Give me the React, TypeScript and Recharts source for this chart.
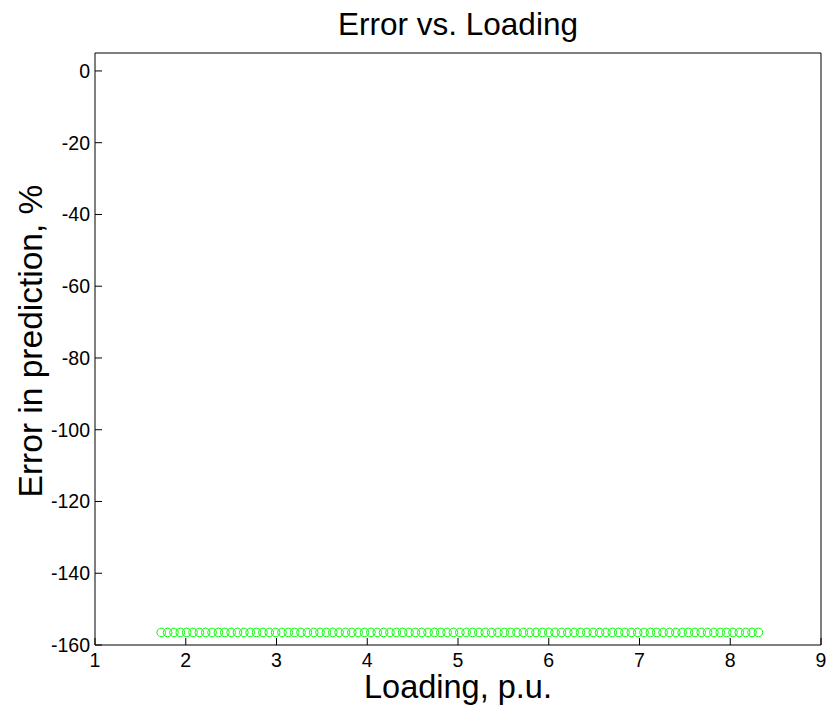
import React from 'react';
import { ScatterChart, Scatter, XAxis, YAxis } from 'recharts';

// Loading, p.u.
const loading = [
  1.73, 1.80, 1.87, 1.94, 2.01, 2.08, 2.15, 2.22, 2.29, 2.36,
  2.43, 2.50, 2.57, 2.64, 2.71, 2.78, 2.85, 2.92, 2.99, 3.06,
  3.13, 3.20, 3.27, 3.34, 3.41, 3.48, 3.55, 3.62, 3.69, 3.76,
  3.83, 3.90, 3.97, 4.04, 4.11, 4.18, 4.25, 4.32, 4.39, 4.46,
  4.53, 4.60, 4.67, 4.74, 4.81, 4.88, 4.95, 5.02, 5.09, 5.16,
  5.23, 5.30, 5.37, 5.44, 5.51, 5.58, 5.65, 5.72, 5.79, 5.86,
  5.93, 6.00, 6.07, 6.14, 6.21, 6.28, 6.35, 6.42, 6.49, 6.56,
  6.63, 6.70, 6.77, 6.84, 6.91, 6.98, 7.05, 7.12, 7.19, 7.26,
  7.33, 7.40, 7.47, 7.54, 7.61, 7.68, 7.75, 7.82, 7.89, 7.96,
  8.03, 8.10, 8.17, 8.24, 8.31,
];

// Error in prediction, %
const errorPct = [
  -156.5, -156.5, -156.5, -156.5, -156.5, -156.5, -156.5, -156.5, -156.5, -156.5,
  -156.5, -156.5, -156.5, -156.5, -156.5, -156.5, -156.5, -156.5, -156.5, -156.5,
  -156.5, -156.5, -156.5, -156.5, -156.5, -156.5, -156.5, -156.5, -156.5, -156.5,
  -156.5, -156.5, -156.5, -156.5, -156.5, -156.5, -156.5, -156.5, -156.5, -156.5,
  -156.5, -156.5, -156.5, -156.5, -156.5, -156.5, -156.5, -156.5, -156.5, -156.5,
  -156.5, -156.5, -156.5, -156.5, -156.5, -156.5, -156.5, -156.5, -156.5, -156.5,
  -156.5, -156.5, -156.5, -156.5, -156.5, -156.5, -156.5, -156.5, -156.5, -156.5,
  -156.5, -156.5, -156.5, -156.5, -156.5, -156.5, -156.5, -156.5, -156.5, -156.5,
  -156.5, -156.5, -156.5, -156.5, -156.5, -156.5, -156.5, -156.5, -156.5, -156.5,
  -156.5, -156.5, -156.5, -156.5, -156.5,
];

const xTicks = [1, 2, 3, 4, 5, 6, 7, 8, 9];
const yTicks = [-160, -140, -120, -100, -80, -60, -40, -20, 0];

const data = loading.map((x, i) => ({ loading: x, error: errorPct[i] }));

const FONT = '"Liberation Sans", Arial, Helvetica, sans-serif';
const TICK_LEN = 7;
const TICK_FONT = 19.5;

// MATLAB-style inward ticks; recharts passes the axis line coordinate as x/y
// because tickSize and tickMargin are both 0.
const BottomTick = (props: any) => {
  const { x, y, payload } = props;
  return (
    <g>
      <line x1={x} x2={x} y1={y} y2={y - TICK_LEN} stroke="#000" strokeWidth={1} />
      <text x={x} y={y + 22} textAnchor="middle" fontSize={TICK_FONT} fontFamily={FONT} fill="#000">
        {payload.value}
      </text>
    </g>
  );
};

const TopTick = (props: any) => {
  const { x, y } = props;
  return <line x1={x} x2={x} y1={y} y2={y + TICK_LEN} stroke="#000" strokeWidth={1} />;
};

const LeftTick = (props: any) => {
  const { x, y, payload } = props;
  return (
    <g>
      <line x1={x} x2={x + TICK_LEN} y1={y} y2={y} stroke="#000" strokeWidth={1} />
      <text x={x - 5} y={y + 7} textAnchor="end" fontSize={TICK_FONT} fontFamily={FONT} fill="#000">
        {payload.value}
      </text>
    </g>
  );
};

const RightTick = (props: any) => {
  const { x, y } = props;
  return <line x1={x - TICK_LEN} x2={x} y1={y} y2={y} stroke="#000" strokeWidth={1} />;
};

const RingMarker = (props: any) => {
  const { cx, cy } = props;
  return <circle cx={cx} cy={cy} r={4.3} fill="none" stroke="#00ff00" strokeWidth={1} />;
};

const NoMarker = () => <g />;

export default function App() {
  return (
    <div style={{ position: 'absolute', left: 0, top: 0, width: 827, height: 707, background: '#fff' }}>
      <ScatterChart width={827} height={707} margin={{ top: 52, right: 5, bottom: 22, left: 35 }}>
        <XAxis
          type="number"
          dataKey="loading"
          domain={[1, 9]}
          ticks={xTicks}
          interval={0}
          height={40}
          tickSize={0}
          tickMargin={0}
          tickLine={false}
          tick={<BottomTick />}
          axisLine={{ stroke: '#000', strokeWidth: 1 }}
        />
        <XAxis
          xAxisId="top"
          orientation="top"
          type="number"
          dataKey="loading"
          domain={[1, 9]}
          ticks={xTicks}
          interval={0}
          height={1}
          tickSize={0}
          tickMargin={0}
          tickLine={false}
          tick={<TopTick />}
          axisLine={{ stroke: '#000', strokeWidth: 1 }}
        />
        <YAxis
          type="number"
          dataKey="error"
          domain={[-160, 5]}
          ticks={yTicks}
          interval={0}
          width={60}
          tickSize={0}
          tickMargin={0}
          tickLine={false}
          tick={<LeftTick />}
          axisLine={{ stroke: '#000', strokeWidth: 1 }}
        />
        <YAxis
          yAxisId="right"
          orientation="right"
          type="number"
          dataKey="error"
          domain={[-160, 5]}
          ticks={yTicks}
          interval={0}
          width={1}
          tickSize={0}
          tickMargin={0}
          tickLine={false}
          tick={<RightTick />}
          axisLine={{ stroke: '#000', strokeWidth: 1 }}
        />
        <Scatter data={data} shape={<RingMarker />} isAnimationActive={false} />
        {/* empty series so the mirrored frame axes get rendered */}
        <Scatter data={[]} xAxisId="top" yAxisId="right" shape={<NoMarker />} isAnimationActive={false} />
        <text x={458} y={35} textAnchor="middle" fontSize={31.5} fontFamily={FONT} fill="#000">
          Error vs. Loading
        </text>
        <text x={458} y={698} textAnchor="middle" fontSize={32.5} fontFamily={FONT} fill="#000">
          Loading, p.u.
        </text>
        <text
          x={0}
          y={0}
          transform="translate(42, 341) rotate(-90)"
          textAnchor="middle"
          fontSize={33.5}
          fontFamily={FONT}
          fill="#000"
        >
          Error in prediction, %
        </text>
      </ScatterChart>
    </div>
  );
}
